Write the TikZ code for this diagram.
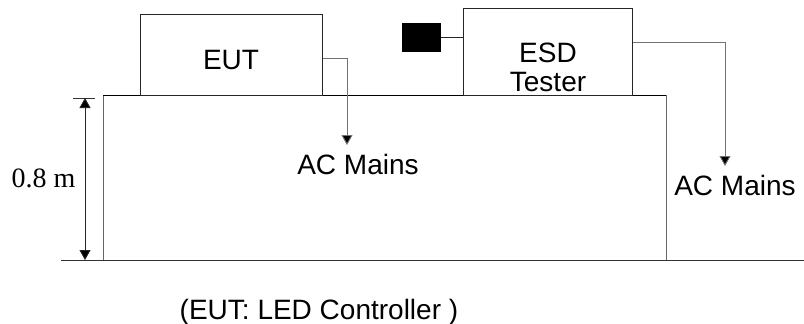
\documentclass[tikz,border=0pt]{standalone}
\usepackage{fontspec}
\setmainfont{Liberation Sans}
\newfontfamily\serifnum{Liberation Serif}
\usetikzlibrary{arrows.meta}
\tikzset{
  box/.style={draw=black!85, line width=0.9pt, rectangle, inner sep=0pt, anchor=north west},
  lbl/.style={inner sep=0pt, font=\fontsize{28}{29}\selectfont},
  conn/.style={draw=black!55, line width=0.9pt, -{Triangle[length=10pt,width=11pt,fill=black]}},
  tip/.style={{Triangle[length=10pt,width=11pt,fill=black]}-{Triangle[length=10pt,width=11pt,fill=black]}},
}
\begin{document}
\begin{tikzpicture}[x=1pt,y=-1pt]
\useasboundingbox (0,0) rectangle (804,324);
% ground and table
\coordinate (g1) at (61,260);
\coordinate (g2) at (804,260);
\coordinate (tbl) at (103,260);
\coordinate (tlt) at (103,95);
\coordinate (trt) at (666,95);
\coordinate (trb) at (666,260);
\draw[black!80, line width=0.9pt] (g1) -- (g2);
\draw[black!60, line width=0.9pt] (tbl) -- (tlt);
\draw[black, line width=1pt] (tlt) -- (trt);
\draw[black!60, line width=0.9pt] (trt) -- (trb);
% boxes
\node[box, minimum width=182pt, minimum height=81pt] (eut) at (140,14) {};
\node[box, minimum width=169pt, minimum height=87pt] (esd) at (463,8) {};
\node[rectangle, fill=black, inner sep=0pt, minimum width=39pt, minimum height=29pt, anchor=north west] (probe) at (402,23) {};
\draw[black!85, line width=0.9pt] (probe.east) -- (probe.east -| esd.west);
% labels
\node[lbl, anchor=base] (eutl) at (231,69) {EUT};
\node[lbl, anchor=north, align=center] (esdl) at (548,43) {ESD\\Tester};
\node[lbl, anchor=base] (am1) at (358,174) {AC Mains};
\node[lbl, anchor=base] (am2) at (735,195) {AC Mains};
\node[lbl, anchor=base, font=\serifnum\fontsize{28}{29}\selectfont] (h) at (43.5,187) {0.8 m};
\node[lbl, anchor=base] (cap) at (319,319) {(EUT: LED Controller )};
% connectors
\coordinate (t1) at (347,145);
\coordinate (t2) at (725,166);
\draw[conn] ([yshift=-3pt]eut.east) -| (t1);
\draw[conn] ([yshift=9.5pt]esd.east) -| (t2);
% dimension
\coordinate (dk1) at (73,98);
\coordinate (dk2) at (95,98);
\coordinate (dt) at (85,98);
\coordinate (db) at (85,260);
\draw[black!80, line width=0.9pt] (dk1) -- (dk2);
\draw[black!85, line width=0.9pt, tip] (dt) -- (db);
\end{tikzpicture}
\end{document}
